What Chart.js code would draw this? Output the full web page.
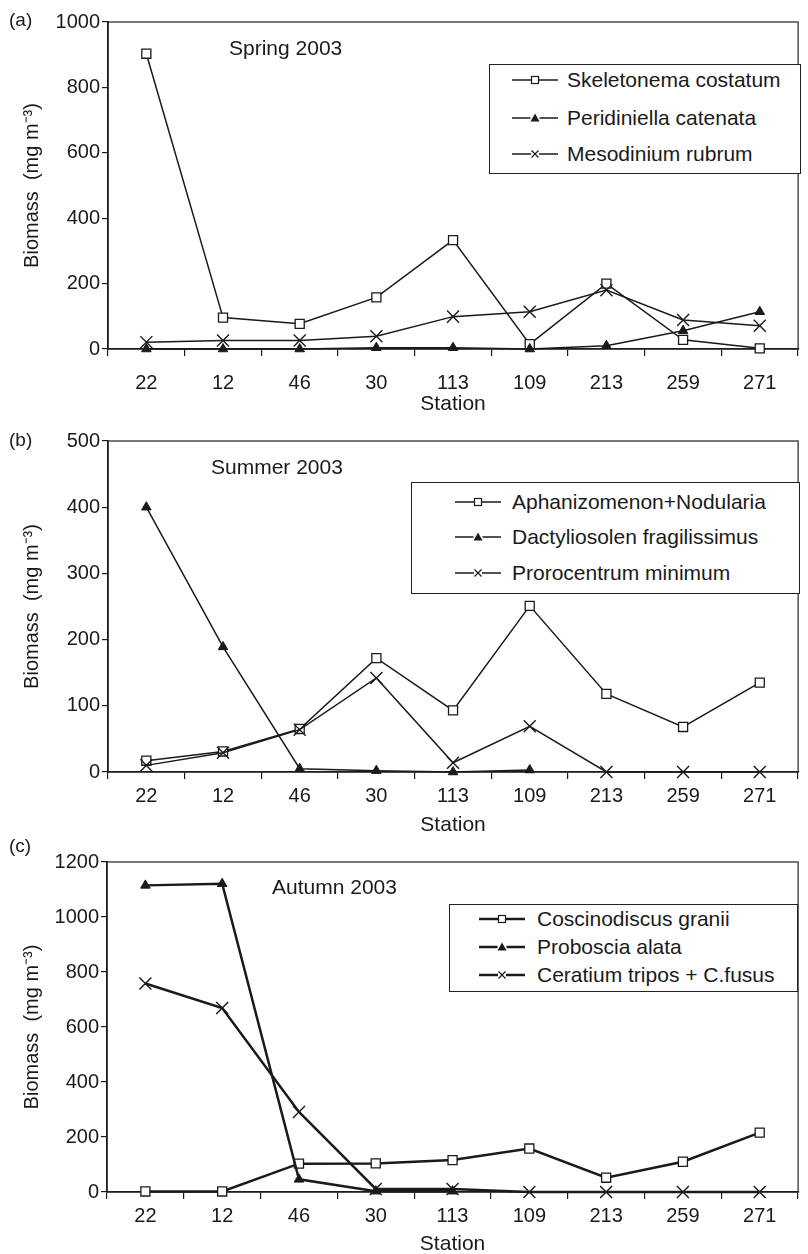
<!DOCTYPE html>
<html>
<head>
<meta charset="utf-8">
<script src="https://cdn.jsdelivr.net/npm/chart.js@4.4.0/dist/chart.umd.min.js"></script>
<style>
  html, body { margin:0; padding:0; background:#fff; width:808px; height:1254px; overflow:hidden; }
  body { position:relative; font-family:"Liberation Sans", Arial, Helvetica, sans-serif; color:#1a1a1a; }
  canvas { position:absolute; left:0; }
  .lbl { position:absolute; font-size:21px; line-height:24px; white-space:nowrap; }
  .plet { position:absolute; font-size:19px; line-height:22px; }
  .legend { position:absolute; border:1.3px solid #222; box-sizing:border-box; background:#fff; }
  .item { position:absolute; font-size:21px; line-height:24px; white-space:nowrap; }
  .item svg { position:absolute; top:2px; }
  .item span { position:absolute; top:0; }
</style>
</head>
<body>
<canvas id="cA" width="808" height="420" style="top:0px"></canvas>
<canvas id="cB" width="808" height="422" style="top:418px"></canvas>
<canvas id="cC" width="808" height="422" style="top:836px"></canvas>

<div class="plet" style="left:9px; top:9px;">(a)</div>
<div class="plet" style="left:9px; top:429px;">(b)</div>
<div class="plet" style="left:9px; top:835px;">(c)</div>

<div class="lbl" style="left:229px; top:36px;">Spring 2003</div>
<div class="lbl" style="left:211px; top:455px;">Summer 2003</div>
<div class="lbl" style="left:272px; top:875px;">Autumn 2003</div>

<div id="legA" class="legend" style="left:489px; top:64px; width:312px; height:110px;"></div>
<div id="legB" class="legend" style="left:411px; top:482px; width:389px; height:112px;"></div>
<div id="legC" class="legend" style="left:449px; top:904px; width:349px; height:88px;"></div>

<script>
// ---------------- DATA ----------------
const stations = ['22', '12', '46', '30', '113', '109', '213', '259', '271'];

const springNames = ['Skeletonema costatum', 'Peridiniella catenata', 'Mesodinium rubrum'];
const springSkeletonema = [903, 96, 77, 158, 333, 15, 200, 28, 2];
const springPeridiniella = [0, 0, 0, 4, 4, 0, 10, 56, 114];
const springMesodinium = [21, 26, 26, 39, 99, 114, 180, 89, 71];

const summerNames = ['Aphanizomenon+Nodularia', 'Dactyliosolen fragilissimus', 'Prorocentrum minimum'];
const summerAphanizomenon = [17, 31, 65, 172, 93, 251, 118, 68, 135];
const summerDactyliosolen = [400, 189, 5, 2, 0, 3, null, null, null];
const summerProrocentrum = [10, 29, 64, 142, 14, 69, 0, 0, 0];

const autumnNames = ['Coscinodiscus granii', 'Proboscia alata', 'Ceratium tripos + C.fusus'];
const autumnCoscinodiscus = [2, 2, 103, 104, 116, 158, 52, 110, 216];
const autumnProboscia = [1115, 1121, 46, 3, 3, null, null, null, null];
const autumnCeratium = [758, 669, 291, 11, 11, 0, 0, 0, 0];

const springTicks = { max: 1000, step: 200 };
const summerTicks = { max: 500, step: 100 };
const autumnTicks = { max: 1200, step: 200 };

// ---------------- STYLE ----------------
const INK = '#1a1a1a';
const FONT = '"Liberation Sans", Arial, Helvetica, sans-serif';

const framePlugin = {
  id: 'frame',
  beforeDatasetsDraw(chart) {
    const { ctx, chartArea: a } = chart;
    ctx.save();
    ctx.strokeStyle = '#222';
    ctx.lineWidth = 1.2;
    ctx.strokeRect(a.left, a.top, a.right - a.left, a.bottom - a.top);
    ctx.restore();
  }
};

function series(label, data, kind, lw, order) {
  const base = {
    label, data, order,
    borderColor: INK, borderWidth: lw, tension: 0, clip: false,
    spanGaps: false, pointBorderColor: INK, pointHoverRadius: 0
  };
  if (kind === 'square') {
    return Object.assign(base, { pointStyle: 'rect', pointRadius: 6.4, pointBackgroundColor: '#fff', pointBorderWidth: 1.3 });
  }
  if (kind === 'triangle') {
    return Object.assign(base, { pointStyle: 'triangle', pointRadius: 5.5, pointBackgroundColor: INK, pointBorderWidth: 1 });
  }
  return Object.assign(base, { pointStyle: 'crossRot', pointRadius: 8.5, pointBackgroundColor: INK, pointBorderWidth: 1.4 });
}

function makeChart(id, names, arrays, ticks, cfg) {
  const ds = [
    series(names[0], arrays[0], 'square', cfg.lw, 3),
    series(names[1], arrays[1], 'triangle', cfg.lw, 2),
    series(names[2], arrays[2], 'cross', cfg.lw, 1)
  ];
  return new Chart(document.getElementById(id), {
    type: 'line',
    data: { labels: stations, datasets: ds },
    plugins: [framePlugin],
    options: {
      responsive: false, animation: false, devicePixelRatio: 1,
      events: [],
      layout: { padding: { top: cfg.top, right: 2, bottom: 0, left: 0 } },
      plugins: { legend: { display: false }, tooltip: { enabled: false } },
      scales: {
        x: {
          type: 'category', offset: true,
          grid: { offset: true, drawOnChartArea: false, tickLength: 7, color: INK, lineWidth: 1.2 },
          border: { display: true, color: INK, width: 1.6 },
          ticks: { color: INK, font: { family: FONT, size: 20 }, padding: cfg.xpad, maxRotation: 0, autoSkip: false },
          title: { display: true, text: 'Station', color: INK, font: { family: FONT, size: 21 }, padding: { top: 0, bottom: cfg.tpad } },
          afterFit(s) { s.height = cfg.xh; }
        },
        y: {
          min: 0, max: ticks.max,
          grid: { drawOnChartArea: false, tickLength: 6, color: INK, lineWidth: 1.2 },
          border: { display: true, color: INK, width: 1.6 },
          ticks: { stepSize: ticks.step, color: INK, font: { family: FONT, size: 20 }, padding: 2,
                   callback: (v) => String(v) },
          title: { display: true, text: 'Biomass  (mg m\u207B\u00B3)', color: INK, font: { family: FONT, size: 20 }, padding: { top: 20, bottom: 0 } },
          afterFit(s) { s.width = cfg.yw; }
        }
      }
    }
  });
}

makeChart('cA', springNames, [springSkeletonema, springPeridiniella, springMesodinium], springTicks,
  { top: 22, xh: 71, xpad: 15, tpad: 3, yw: 108, lw: 1.5 });
makeChart('cB', summerNames, [summerAphanizomenon, summerDactyliosolen, summerProrocentrum], summerTicks,
  { top: 23, xh: 68, xpad: 5, tpad: 2, yw: 108, lw: 1.5 });
makeChart('cC', autumnNames, [autumnCoscinodiscus, autumnProboscia, autumnCeratium], autumnTicks,
  { top: 26, xh: 66, xpad: 5, tpad: 1, yw: 107, lw: 2.5 });

// ---------------- HTML legends ----------------
function symbol(kind, lw) {
  let m = '';
  if (kind === 'square') m = '<rect x="19.5" y="6.5" width="7" height="7" fill="#fff" stroke="#1a1a1a" stroke-width="1.2"/>';
  else if (kind === 'triangle') m = '<polygon points="23,5.5 27.5,13.5 18.5,13.5" fill="#1a1a1a"/>';
  else m = '<path d="M19.5 6.5 L26.5 13.5 M26.5 6.5 L19.5 13.5" stroke="#1a1a1a" stroke-width="1.2"/>';
  const left = kind === 'square' ? 19.5 : (kind === 'triangle' ? 18.5 : 19.5);
  const right = kind === 'square' ? 26.5 : (kind === 'triangle' ? 27.5 : 26.5);
  const line = '<line x1="0" y1="10" x2="' + (kind === 'cross' ? 19 : left) + '" y2="10" stroke="#1a1a1a" stroke-width="' + lw + '"/>' +
               '<line x1="' + (kind === 'cross' ? 27 : right) + '" y1="10" x2="46" y2="10" stroke="#1a1a1a" stroke-width="' + lw + '"/>';
  return '<svg width="46" height="20" viewBox="0 0 46 20">' + line + m + '</svg>';
}
function buildLegend(id, names, cfg) {
  const el = document.getElementById(id);
  const kinds = ['square', 'triangle', 'cross'];
  names.forEach((n, i) => {
    const d = document.createElement('div');
    d.className = 'item';
    d.style.left = '0px';
    d.style.top = (cfg.y[i] - 12) + 'px';
    d.innerHTML = symbol(kinds[i], cfg.lw).replace('<svg', '<svg style="left:' + cfg.sx + 'px"') +
                  '<span style="left:' + cfg.tx + 'px">' + n + '</span>';
    el.appendChild(d);
  });
}
buildLegend('legA', springNames, { y: [15, 53, 89], sx: 22, tx: 77, lw: 1.5 });
buildLegend('legB', summerNames, { y: [19, 54, 90], sx: 43, tx: 100, lw: 1.5 });
buildLegend('legC', autumnNames, { y: [14, 42, 70], sx: 29, tx: 87, lw: 2.5 });
</script>
</body>
</html>
